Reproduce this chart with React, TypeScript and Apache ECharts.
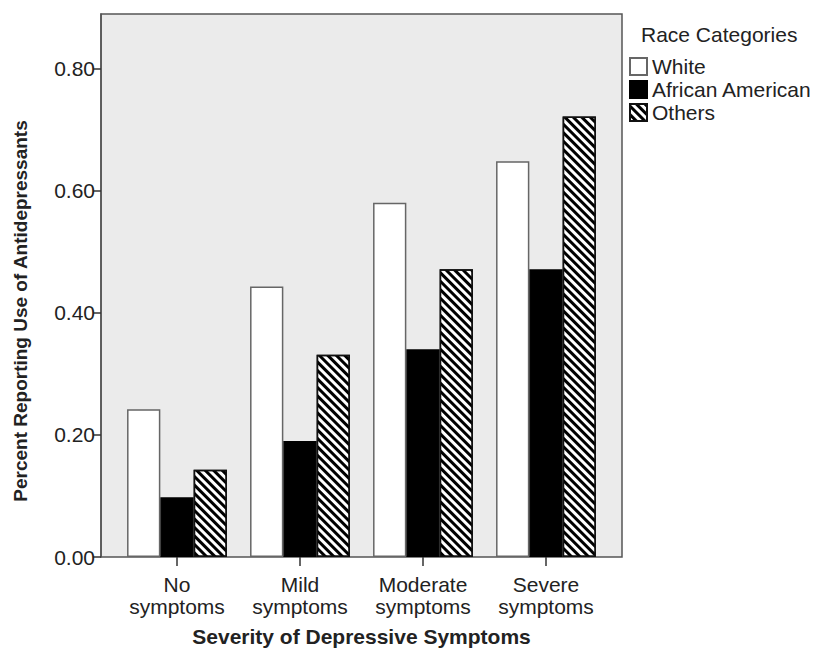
import React, { useEffect, useRef } from "react";
import * as echarts from "echarts";

const categories = ["No\nsymptoms", "Mild\nsymptoms", "Moderate\nsymptoms", "Severe\nsymptoms"];
const seriesNames = ["White", "African American", "Others"];
const whiteValues = [0.242, 0.443, 0.58, 0.648];
const africanAmericanValues = [0.098, 0.19, 0.34, 0.471];
const othersValues = [0.143, 0.331, 0.471, 0.721];
const yTicks = [0, 0.2, 0.4, 0.6, 0.8];

const FONT = "'Liberation Sans', Arial, sans-serif";

export default function App() {
  const ref = useRef<HTMLDivElement>(null);
  useEffect(() => {
    document.body.style.margin = "0";
    if (!ref.current) return;
    const chart = echarts.init(ref.current, undefined, { renderer: "svg" });
    const hatch = {
      symbol: "rect",
      symbolSize: 1,
      dashArrayX: [1, 0],
      dashArrayY: [2.6, 2.6],
      rotation: Math.PI / 4,
      color: "#000",
    };
    chart.setOption({
      animation: false,
      textStyle: { fontFamily: FONT },
      grid: { left: 115.5, top: 14, width: 492, height: 543, containLabel: false },
      graphic: [
        {
          type: "rect",
          z: -10,
          shape: { x: 101, y: 14, width: 521, height: 543 },
          style: { fill: "#ebebeb", stroke: "#555", lineWidth: 1.5 },
        },
        {
          type: "text",
          x: 20,
          y: 311,
          rotation: Math.PI / 2,
          style: {
            text: "Percent Reporting Use of Antidepressants",
            fontFamily: FONT,
            fontSize: 19,
            fontWeight: "bold",
            fill: "#222",
            textAlign: "center",
            textVerticalAlign: "middle",
          },
        },
        {
          type: "text",
          x: 361.5,
          y: 636,
          style: {
            text: "Severity of Depressive Symptoms",
            fontFamily: FONT,
            fontSize: 21,
            fontWeight: "bold",
            fill: "#222",
            textAlign: "center",
            textVerticalAlign: "middle",
          },
        },
        {
          type: "text",
          x: 641,
          y: 34,
          style: {
            text: "Race Categories",
            fontFamily: FONT,
            fontSize: 21,
            fill: "#222",
            textAlign: "left",
            textVerticalAlign: "middle",
          },
        },
      ],
      legend: {
        orient: "vertical",
        left: 629,
        top: 56,
        itemWidth: 17,
        itemHeight: 17,
        itemGap: 2,
        padding: 0,
        icon: "rect",
        data: seriesNames,
        textStyle: { fontFamily: FONT, fontSize: 21, color: "#222", lineHeight: 21 },
      },
      xAxis: {
        type: "category",
        data: categories,
        axisLine: { show: false },
        axisTick: { show: true, alignWithLabel: true, length: 9, lineStyle: { color: "#333", width: 1.5 } },
        axisLabel: {
          margin: 16,
          fontSize: 21,
          lineHeight: 22,
          color: "#222",
          fontFamily: FONT,
          interval: 0,
        },
      },
      yAxis: {
        type: "value",
        min: 0,
        max: 0.889,
        offset: 14.5,
        splitLine: { show: false },
        axisLine: { show: true, lineStyle: { color: "#555", width: 1.5 } },
        axisTick: { show: true, length: 8, customValues: yTicks, lineStyle: { color: "#333", width: 1.5 } },
        axisLabel: {
          customValues: yTicks,
          margin: 6,
          fontSize: 21,
          color: "#222",
          fontFamily: FONT,
          formatter: (v: number) => v.toFixed(2),
        },
      },
      series: [
        {
          name: seriesNames[0],
          type: "bar",
          data: whiteValues,
          barWidth: 33.3,
          barGap: "0%",
          itemStyle: { color: "#fff", borderColor: "#666", borderWidth: 1.5 },
        },
        {
          name: seriesNames[1],
          type: "bar",
          data: africanAmericanValues,
          barWidth: 33.3,
          barGap: "0%",
          itemStyle: { color: "#000", borderColor: "#000", borderWidth: 1.5 },
        },
        {
          name: seriesNames[2],
          type: "bar",
          data: othersValues,
          barWidth: 33.3,
          barGap: "0%",
          itemStyle: { color: "#fff", borderColor: "#111", borderWidth: 1.5, decal: hatch },
        },
      ],
    });
    return () => chart.dispose();
  }, []);
  return <div ref={ref} style={{ width: 815, height: 650 }} />;
}
